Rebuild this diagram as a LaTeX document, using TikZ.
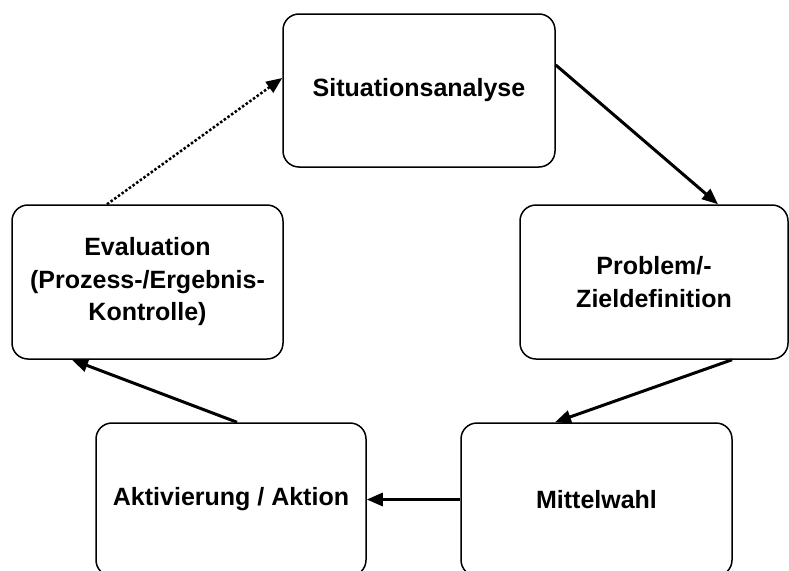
\documentclass[tikz,border=0pt]{standalone}
\usepackage{fontspec}
\setmainfont{Liberation Sans}
\usetikzlibrary{arrows.meta}

\begin{document}
\begin{tikzpicture}[
        x=1pt, y=-1pt,
        every node/.style={font=\bfseries\fontsize{25}{32.5}\selectfont},
        box/.style={draw, line width=1.5pt, rounded corners=16pt, fill=white, align=center, inner sep=0pt},
        arr/.style={-{Triangle[length=16pt, width=13pt]}, line width=3pt},
        dotarr/.style={arr, line width=2.5pt, dotted}
    ]
        \useasboundingbox[fill=white] (0,0) rectangle (789,570);

        \node[box, minimum width=272pt, minimum height=153pt] (sit) at (419,90.5) {Situationsanalyse};
        \node[box, minimum width=268pt, minimum height=154pt] (prob) at (654,282) {Problem/-\\Zieldefinition};
        \node[box, minimum width=271pt, minimum height=154pt] (eval) at (147.5,282) {Evaluation\\(Prozess-/Ergebnis-\\Kontrolle)};
        \node[box, minimum width=270pt, minimum height=153pt] (akt) at (231,499.5) {Aktivierung / Aktion};
        \node[box, minimum width=271pt, minimum height=153pt] (mit) at (596.5,499.5) {Mittelwahl};

        \draw[arr] ([yshift=25.5pt]sit.east) -- ([xshift=64pt]prob.north);
        \draw[arr] ([xshift=78pt]prob.south) -- ([xshift=-41.5pt]mit.north);
        \draw[arr] (mit.west) -- (akt.east);
        \draw[arr] ([xshift=6pt]akt.north) -- ([xshift=-75.5pt]eval.south);
        \draw[dotarr] ([xshift=-40.5pt]eval.north) -- ([yshift=12.5pt]sit.west);
    \end{tikzpicture}
\end{document}
